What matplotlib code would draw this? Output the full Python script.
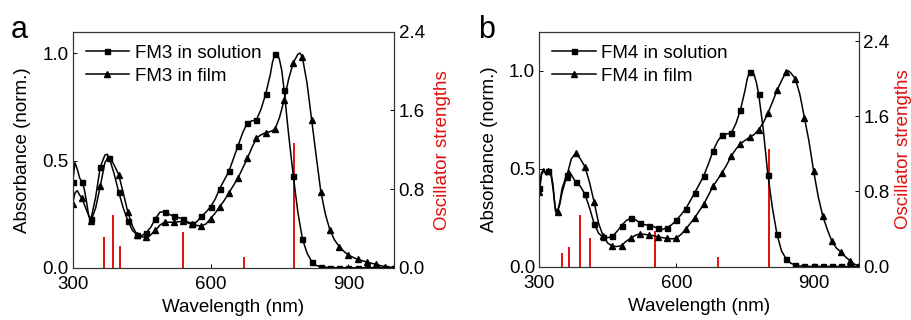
import matplotlib
matplotlib.use("Agg")
import matplotlib.pyplot as plt
import numpy as np

plt.rcParams['font.family'] = ['Liberation Sans', 'DejaVu Sans']

# ---------------- Panel a: FM3 ----------------
wl_a_sol = [300, 305, 310, 315, 320, 325, 330, 335, 340, 350, 360, 370, 375, 380, 390, 400,
            410, 420, 430, 440, 450, 460, 470, 480, 490, 500, 510, 520, 530, 540, 550, 560,
            570, 580, 590, 600, 610, 620, 630, 640, 650, 660, 670, 680, 690, 700, 710, 720,
            730, 735, 740, 745, 750, 755, 760, 770, 780, 790, 800, 810, 820, 830, 840, 860,
            880, 900, 920, 940, 960, 980, 1000]
abs_a_sol = [0.40, 0.49, 0.46, 0.42, 0.40, 0.37, 0.31, 0.24, 0.23, 0.33, 0.47, 0.525, 0.53, 0.51, 0.44, 0.355,
             0.28, 0.22, 0.175, 0.155, 0.15, 0.165, 0.19, 0.23, 0.26, 0.262, 0.25, 0.24, 0.235, 0.228, 0.215, 0.205,
             0.215, 0.24, 0.26, 0.285, 0.32, 0.37, 0.41, 0.45, 0.51, 0.57, 0.63, 0.675, 0.685, 0.69, 0.74, 0.81,
             0.90, 0.96, 0.995, 1.0, 0.97, 0.92, 0.83, 0.62, 0.43, 0.26, 0.135, 0.07, 0.03, 0.012, 0.005, 0.002,
             0.001, 0.001, 0.001, 0.001, 0.001, 0.001, 0.001]

wl_a_film = [300, 305, 310, 315, 320, 330, 340, 350, 360, 370, 378, 385, 390, 400, 410, 420,
             430, 440, 450, 460, 470, 480, 490, 500, 510, 520, 530, 540, 550, 560, 570, 580,
             590, 600, 610, 620, 630, 640, 650, 660, 670, 680, 690, 700, 710, 720, 730, 740,
             750, 760, 770, 780, 790, 795, 800, 810, 820, 830, 840, 850, 860, 870, 880, 890,
             900, 910, 920, 930, 940, 950, 960, 970, 980, 990, 1000]
abs_a_film = [0.30, 0.35, 0.36, 0.34, 0.325, 0.27, 0.22, 0.28, 0.38, 0.49, 0.52, 0.50, 0.48, 0.435, 0.35, 0.26,
              0.195, 0.155, 0.145, 0.143, 0.155, 0.175, 0.20, 0.213, 0.213, 0.213, 0.215, 0.218, 0.21, 0.203, 0.198, 0.196,
              0.205, 0.23, 0.255, 0.286, 0.315, 0.35, 0.385, 0.42, 0.465, 0.51, 0.56, 0.605, 0.62, 0.63, 0.635, 0.645,
              0.70, 0.78, 0.88, 0.955, 0.995, 1.0, 0.98, 0.86, 0.69, 0.52, 0.355, 0.25, 0.175, 0.13, 0.10, 0.078,
              0.06, 0.05, 0.04, 0.034, 0.028, 0.022, 0.017, 0.011, 0.006, 0.004, 0.002]

osc_a_wl = [368, 388, 403, 540, 673, 781]
osc_a_f = [0.31, 0.54, 0.22, 0.37, 0.115, 1.27]

# ---------------- Panel b: FM4 ----------------
wl_b_sol = [300, 305, 310, 315, 320, 325, 330, 335, 338, 345, 350, 360, 365, 370, 380, 390,
            400, 410, 420, 430, 440, 450, 460, 470, 480, 490, 500, 510, 520, 530, 540, 550,
            560, 570, 580, 590, 600, 610, 620, 630, 640, 650, 660, 670, 680, 690, 700, 710,
            720, 730, 740, 750, 755, 760, 765, 770, 775, 780, 790, 800, 810, 820, 830, 840,
            850, 860, 870, 880, 900, 920, 940, 960, 980, 1000]
abs_b_sol = [0.40, 0.48, 0.50, 0.47, 0.49, 0.49, 0.42, 0.29, 0.265, 0.33, 0.40, 0.47, 0.49, 0.47, 0.43, 0.41,
             0.37, 0.30, 0.22, 0.17, 0.15, 0.148, 0.155, 0.18, 0.21, 0.235, 0.248, 0.24, 0.225, 0.215, 0.21, 0.205,
             0.195, 0.19, 0.20, 0.215, 0.238, 0.265, 0.295, 0.335, 0.378, 0.42, 0.465, 0.525, 0.59, 0.64, 0.673, 0.678,
             0.682, 0.73, 0.80, 0.90, 0.96, 0.995, 1.0, 0.98, 0.94, 0.88, 0.70, 0.47, 0.30, 0.165, 0.08, 0.04,
             0.018, 0.008, 0.004, 0.002, 0.001, 0.001, 0.001, 0.001, 0.001, 0.001]

wl_b_film = [300, 305, 310, 315, 320, 325, 330, 335, 340, 345, 350, 360, 370, 380, 390, 400,
             410, 420, 430, 440, 450, 460, 470, 480, 490, 500, 510, 520, 530, 540, 550, 560,
             570, 580, 590, 600, 610, 620, 630, 640, 650, 660, 670, 680, 690, 700, 710, 720,
             730, 740, 750, 760, 770, 780, 790, 800, 810, 820, 830, 840, 845, 850, 860, 870,
             880, 890, 900, 910, 920, 930, 940, 950, 960, 970, 980, 990, 1000]
abs_b_film = [0.38, 0.47, 0.49, 0.47, 0.49, 0.48, 0.40, 0.30, 0.28, 0.32, 0.38, 0.46, 0.55, 0.58, 0.55, 0.51,
              0.43, 0.33, 0.22, 0.155, 0.12, 0.105, 0.103, 0.108, 0.13, 0.145, 0.16, 0.168, 0.165, 0.162, 0.158, 0.153,
              0.148, 0.145, 0.142, 0.145, 0.165, 0.19, 0.22, 0.25, 0.285, 0.32, 0.365, 0.41, 0.445, 0.48, 0.52, 0.565,
              0.60, 0.627, 0.645, 0.66, 0.675, 0.70, 0.735, 0.784, 0.84, 0.90, 0.95, 0.995, 1.0, 0.99, 0.96, 0.88,
              0.76, 0.64, 0.49, 0.36, 0.26, 0.19, 0.13, 0.095, 0.075, 0.05, 0.03, 0.012, 0.003]

osc_b_wl = [350, 365, 390, 411, 553, 690, 802]
osc_b_f = [0.15, 0.21, 0.55, 0.30, 0.38, 0.106, 1.25]

xticks = [300, 600, 900]
FS = 13.5
RED = '#e01010'


def draw_panel(rect, wl_s, ab_s, wl_f, ab_f, osc_wl, osc_f, name, ylim_left, ylim_right,
               letter, letter_xy, rpad):
    ax = fig.add_axes(rect)
    ax2 = ax.twinx()
    ax2.vlines(osc_wl, 0, osc_f, color=RED, lw=1.4, zorder=1)
    ax2.set_ylim(*ylim_right)
    ax2.set_yticks([0.0, 0.8, 1.6, 2.4])
    ax2.set_yticklabels(['0.0', '0.8', '1.6', '2.4'])
    ax2.set_ylabel('Oscillator strengths', color=RED, fontsize=FS, labelpad=rpad)
    ax2.tick_params(axis='y', direction='in', length=3, labelsize=FS, pad=3, width=0.7)

    ax.set_zorder(ax2.get_zorder() + 1)
    ax.patch.set_visible(False)

    wl_s = np.asarray(wl_s); ab_s = np.asarray(ab_s)
    wl_f = np.asarray(wl_f); ab_f = np.asarray(ab_f)
    ms = wl_s % 20 == 0
    mf = wl_f % 20 == 0
    ax.plot(wl_s, ab_s, color='black', lw=1.1, marker='s', ms=3.6,
            markevery=list(np.nonzero(ms)[0]), label=f'{name} in solution')
    ax.plot(wl_f, ab_f, color='black', lw=1.1, marker='^', ms=4.6,
            markevery=list(np.nonzero(mf)[0]), label=f'{name} in film')

    ax.set_xlim(300, 1000)
    ax.set_ylim(*ylim_left)
    ax.set_xticks(xticks)
    ax.set_yticks([0.0, 0.5, 1.0])
    ax.set_yticklabels(['0.0', '0.5', '1.0'])
    ax.tick_params(axis='y', direction='in', length=3, labelsize=FS, pad=3, width=0.7)
    ax.tick_params(axis='x', direction='in', length=3, labelsize=FS, pad=6, width=0.7)
    ax.set_xlabel('Wavelength (nm)', fontsize=FS, labelpad=4)
    ax.set_ylabel('Absorbance (norm.)', fontsize=FS, labelpad=8)
    for a in (ax, ax2):
        for s in a.spines.values():
            s.set_linewidth(0.8)
            s.set_color('#333333')
    ax.legend(loc='upper left', frameon=False, fontsize=FS, handlelength=2.3,
              handletextpad=0.3, borderaxespad=0.3, labelspacing=0.3,
              bbox_to_anchor=(0.0, 1.0))
    fig.text(letter_xy[0], letter_xy[1], letter, fontsize=22, ha='left', va='center')
    return ax


fig = plt.figure(figsize=(9.12, 3.2), dpi=100)
draw_panel([0.0797, 0.1625, 0.3527, 0.7385], wl_a_sol, abs_a_sol, wl_a_film, abs_a_film,
           osc_a_wl, osc_a_f, 'FM3', (0, 1.1), (0, 2.4), 'a', (0.012, 0.905), 7)
draw_panel([0.5913, 0.1666, 0.3509, 0.7344], wl_b_sol, abs_b_sol, wl_b_film, abs_b_film,
           osc_b_wl, osc_b_f, 'FM4', (0, 1.2), (0, 2.5), 'b', (0.524, 0.905), 4)

fig.savefig('out.png', dpi=100)
